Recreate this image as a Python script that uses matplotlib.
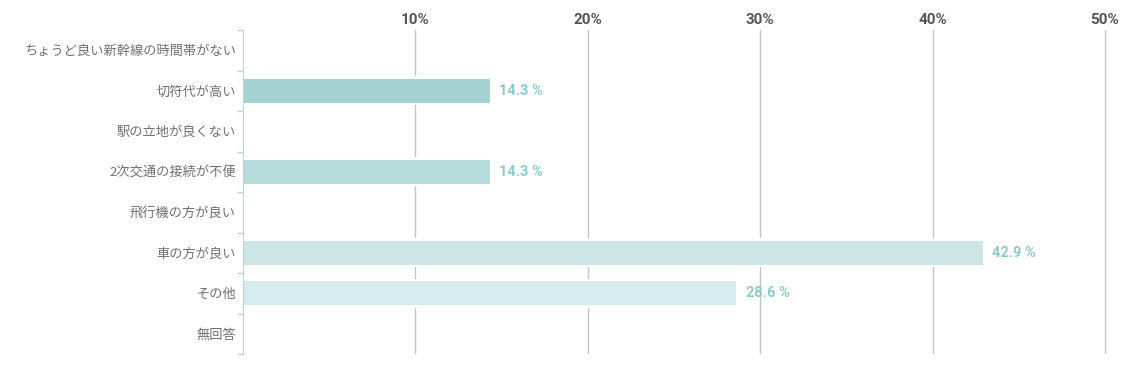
import matplotlib.pyplot as plt
import numpy as np

plt.rcParams['font.family'] = ['Noto Sans CJK JP', 'DejaVu Sans']

categories = ['ちょうど良い新幹線の時間帯がない', '切符代が高い', '駅の立地が良くない',
              '2次交通の接続が不便', '飛行機の方が良い', '車の方が良い', 'その他', '無回答']
values = [0, 14.3, 0, 14.3, 0, 42.9, 28.6, 0]
bar_colors = ['#a5d2d3', '#a5d2d3', '#b7dcdc', '#b7dcdc', '#c2e1e1', '#cce6e6', '#d6ebeb', '#dceeee']
xticks = [10, 20, 30, 40, 50]
xtick_labels = ['10%', '20%', '30%', '40%', '50%']

fig = plt.figure(figsize=(11.25, 3.69), dpi=100)
ax = fig.add_axes([243/1125, 15/369, 864/1125, 324/369])

y = np.arange(len(categories))
# white band behind each bar interrupts the gridlines
ax.barh(y, values, height=0.72, color='white', zorder=2)
ax.barh(y, values, height=0.59, color=bar_colors, zorder=3)

for yi, v in zip(y, values):
    if v > 0:
        ax.text(v + 0.55, yi, f'{v:.1f} %', va='center', ha='left', fontsize=10.5,
                fontweight='bold', color='#8ecaca', family=['Roboto'], zorder=4)

ax.set_xlim(0, 50 * 864 / 862)
ax.set_ylim(len(categories) - 0.5, -0.5)

ax.set_xticks(xticks)
ax.set_xticklabels(xtick_labels, family=['Roboto'], fontweight='bold', fontsize=11, color='#555555')
ax.xaxis.tick_top()
ax.tick_params(axis='x', length=0, pad=2)
ax.grid(axis='x', color='#c4c4c4', linewidth=1, zorder=1)
ax.set_axisbelow(True)

ax.set_yticks(y)
ax.set_yticklabels(categories, fontsize=9.5, color='#707070')
ax.set_yticks(np.arange(-0.5, len(categories), 1), minor=True)
ax.tick_params(axis='y', which='major', length=0, pad=5)
ax.tick_params(axis='y', which='minor', length=4, width=1, color='#c0cfe0')

for side in ['top', 'right', 'bottom']:
    ax.spines[side].set_visible(False)
ax.spines['left'].set_color('#c0cfe0')
ax.spines['left'].set_zorder(5)

fig.savefig('out.png', dpi=100)
